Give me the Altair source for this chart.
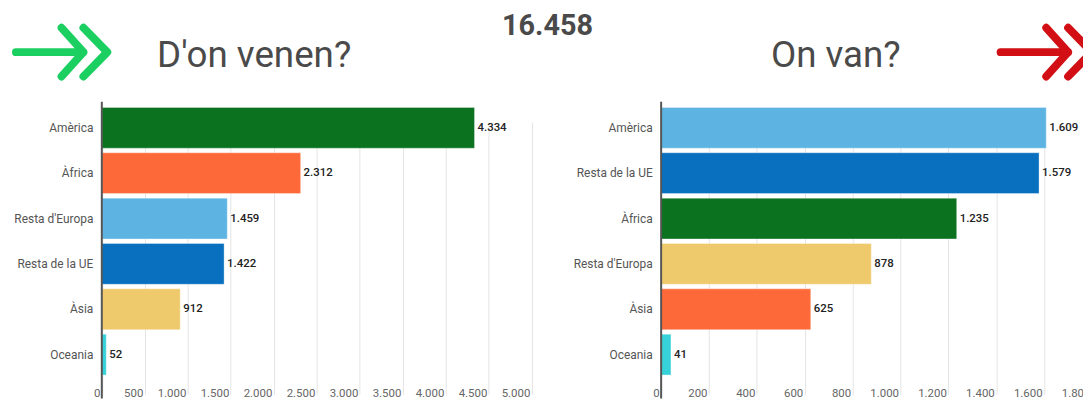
import altair as alt
import pandas as pd

# ---- data ----
origin_categories = ["Amèrica", "Àfrica", "Resta d'Europa", "Resta de la UE", "Àsia", "Oceania"]
origin_values = [4334, 2312, 1459, 1422, 912, 52]
destination_categories = ["Amèrica", "Resta de la UE", "Àfrica", "Resta d'Europa", "Àsia", "Oceania"]
destination_values = [1609, 1579, 1235, 878, 625, 41]
origin_ticks = [0, 500, 1000, 1500, 2000, 2500, 3000, 3500, 4000, 4500, 5000]
destination_ticks = [0, 200, 400, 600, 800, 1000, 1200, 1400, 1600, 1800]
titles = ["D'on venen?", "On van?"]

# ---- styles ----
GREEN = "#0b721f"
ORANGE = "#fe693a"
LIGHTBLUE = "#5db4e3"
BLUE = "#0870bf"
YELLOW = "#efca6c"
CYAN = "#36d1d9"
origin_colors = [GREEN, ORANGE, LIGHTBLUE, BLUE, YELLOW, CYAN]
destination_colors = [LIGHTBLUE, BLUE, GREEN, YELLOW, ORANGE, CYAN]


def fmt(v):
    return f"{v:,}".replace(",", ".")


LABEL_EXPR = "replace(format(datum.value, ','), ',', '.')"
VIEW_H = 300
BAND_RANGE = [4.4, 278.6]


def panel(cats, vals, colors, ticks, xrange):
    df = pd.DataFrame({"cat": cats, "value": vals, "label": [fmt(v) for v in vals]})
    x = alt.X(
        "value:Q",
        scale=alt.Scale(domain=[0, ticks[-1]], range=xrange, nice=False, zero=True),
        axis=alt.Axis(
            values=ticks, orient="bottom", grid=True, gridColor="#e4e4e4", gridWidth=1,
            domain=False, ticks=False, tickSize=0, labelAlign="right",
            labelBaseline="alphabetic", labelPadding=-2, labelOffset=-2, labelFlush=False,
            labelOverlap=False, labelExpr=LABEL_EXPR, labelFontSize=11.5,
            labelColor="#666666", title=None,
        ),
    )
    y = alt.Y(
        "cat:N",
        sort=cats,
        scale=alt.Scale(domain=cats, range=BAND_RANGE, paddingInner=0.1, paddingOuter=0.05),
        axis=alt.Axis(
            orient="left", offset=-xrange[0], domain=False, ticks=False, labelPadding=9,
            labelFontSize=12, labelColor="#555555", title=None, grid=False,
        ),
    )
    color = alt.Color("cat:N", scale=alt.Scale(domain=cats, range=colors), legend=None)
    bars = alt.Chart(df).mark_bar(stroke="#ffffff", strokeOpacity=0.35, strokeWidth=1).encode(
        x=x, y=y, color=color
    )
    labels = alt.Chart(df).mark_text(
        align="left", baseline="middle", dx=3, fontSize=11.5, color="#222222", fontWeight=500
    ).encode(x=alt.X("value:Q"), y=alt.Y("cat:N", sort=cats), text="label:N")
    axis_line = alt.Chart(pd.DataFrame({"k": [0]})).mark_rule(
        color="#555555", strokeWidth=2
    ).encode(x=alt.value(xrange[0]), y=alt.value(1), y2=alt.value(VIEW_H))
    return alt.layer(bars, labels, axis_line)


left = panel(origin_categories, origin_values, origin_colors, origin_ticks, [94.5, 527.7])
right = panel(destination_categories, destination_values, destination_colors, destination_ticks, [658, 1092])

title_df = pd.DataFrame({"t": titles})
left_title = alt.Chart(title_df.iloc[[0]]).mark_text(
    fontSize=37, color="#4a4a4a", align="center", baseline="alphabetic"
).encode(text="t:N", x=alt.value(248), y=alt.value(-34))
right_title = alt.Chart(title_df.iloc[[1]]).mark_text(
    fontSize=37, color="#4a4a4a", align="center", baseline="alphabetic"
).encode(text="t:N", x=alt.value(834), y=alt.value(-34))

total = sum(origin_values) + sum(destination_values)
total_text = alt.Chart(pd.DataFrame({"t": [fmt(total)]})).mark_text(
    fontSize=29, fontWeight="bold", color="#4a4a4a", align="center", baseline="alphabetic"
).encode(text="t:N", x=alt.value(543.5), y=alt.value(-66))

ARROW = "M-1,0L0.478,0M0,-0.533L0.478,0L0,0.533M0.478,-0.533L1,0L0.478,0.533"
arrow_df = pd.DataFrame({"k": [0]})
left_arrow = alt.Chart(arrow_df).mark_point(
    shape=ARROW, size=8464, filled=False, strokeWidth=8, strokeCap="round",
    strokeJoin="round", color="#1ccf61", opacity=1,
).encode(x=alt.value(54), y=alt.value(-49))
right_arrow = alt.Chart(arrow_df).mark_point(
    shape=ARROW, size=8464, filled=False, strokeWidth=8, strokeCap="round",
    strokeJoin="round", color="#d20f14", opacity=1,
).encode(x=alt.value(1046), y=alt.value(-49))

chart = alt.layer(
    left, right, left_title, right_title, total_text, left_arrow, right_arrow
).resolve_scale(
    x="independent", y="independent", color="independent"
).properties(
    width=1083, height=VIEW_H,
    padding={"left": 0, "top": 92, "right": 0, "bottom": 0},
    autosize=alt.AutoSizeParams(type="none"),
).configure(font="Roboto").configure_view(strokeWidth=0)

chart.save("out.html", embed_options={"renderer": "svg", "actions": False})
